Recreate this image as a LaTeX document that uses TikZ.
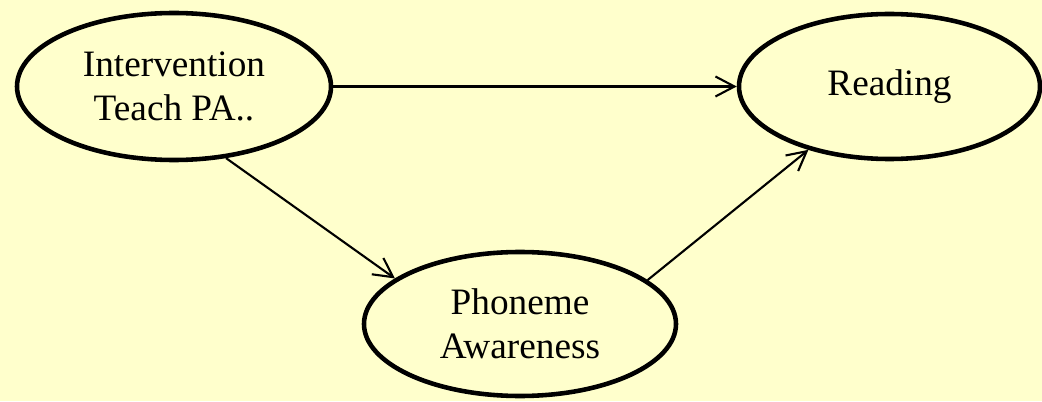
\documentclass[tikz,border=0pt]{standalone}
\usepackage{fontspec}
\setmainfont{Liberation Serif}
\usetikzlibrary{shapes.geometric,arrows.meta}
\definecolor{paleyellow}{RGB}{255,255,204}

\begin{document}
\begin{tikzpicture}[
    bubble/.style={ellipse,draw,line width=1.3pt,fill=paleyellow,inner sep=0,align=center,font=\bubblefontsize},
    link/.style={line width=0.6pt,-{Straight Barb[length=1.9mm,width=2mm,line width=0.6pt]}}]
    \pgfmathsetmacro{\picwidth}{10.42}
    \pgfmathsetmacro{\picheight}{4.01}
    \pgfmathsetmacro{\toprow}{3.145}
    \providecommand{\bubblefontsize}{\fontsize{10.6pt}{12.5pt}\selectfont}
    \fill[paleyellow] (0,0) rectangle (\picwidth,\picheight);
    \useasboundingbox (0,0) rectangle (\picwidth,\picheight);
    \node[bubble,minimum width=3.14cm,minimum height=1.47cm] (teach) at (1.74,\toprow) {Intervention\\Teach PA..};
    \node[bubble,minimum width=3.01cm,minimum height=1.45cm] (reading) at (8.895,\toprow) {Reading};
    \node[bubble,minimum width=3.12cm,minimum height=1.44cm] (aware) at (5.20,0.77) {Phoneme\\Awareness};
    \draw[link] (teach.east) -- (reading.west);
    \draw[link] (teach.-54.6) -- (aware.160.5);
    \draw[link] (aware.19) -- (reading.-142.7);
\end{tikzpicture}
\end{document}
